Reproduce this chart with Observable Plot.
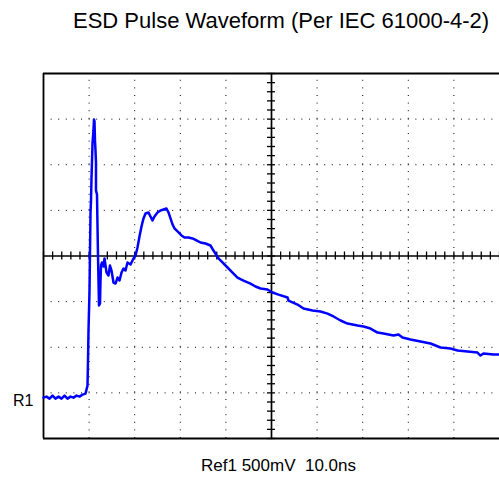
<!DOCTYPE html>
<html>
<head>
<meta charset="utf-8">
<script src="https://cdn.jsdelivr.net/npm/d3@7"></script>
<script src="https://cdn.jsdelivr.net/npm/@observablehq/plot@0.6"></script>
<style>
  html, body { margin: 0; padding: 0; background: #fff; }
  #wrap { position: relative; width: 499px; height: 479px; overflow: hidden; font-family: "Liberation Sans", Arial, sans-serif; color: #000; }
  #title { position: absolute; left: 73px; top: 10px; font-size: 22px; line-height: 22px; white-space: pre; }
  #chart { position: absolute; left: 0; top: 60px; }
  #caption { position: absolute; left: 201px; top: 457px; font-size: 17px; line-height: 17px; white-space: pre; }
</style>
</head>
<body>
<div id="wrap">
  <div id="title"></div>
  <div id="chart"></div>
  <div id="caption"></div>
</div>
<script>
// Texts
const titleText = "ESD Pulse Waveform (Per IEC 61000-4-2)";
const captionText = "Ref1 500mV  10.0ns";
const refLabel = "R1";

// Time axis (ns): 10 ns/div, 10 divisions
const timeDomain = [0, 100];
// Voltage axis (V relative to R1 reference): 500 mV/div, 8 divisions
const voltDomain = [-0.5, 3.5];
const timeCenter = 50;
const voltCenter = 1.5;
const timeGrid = [10, 20, 30, 40, 60, 70, 80, 90];
const voltGrid = [0, 0.5, 1.0, 2.0, 2.5, 3.0];

// Waveform samples
const timeNs = [
  0, 0.66, 1.32, 1.97, 2.63, 3.29, 3.95, 4.61, 5.26, 5.92, 6.58, 7.24, 7.89, 8.55, 9.21,
  9.43, 9.65, 9.76, 9.87, 9.98, 10.09, 10.20, 10.31, 10.42, 10.53, 10.64, 10.75, 10.96, 11.07,
  11.18, 11.29, 11.40, 11.51, 11.51, 11.51, 11.73, 11.84, 11.95, 12.06, 12.17, 12.39, 12.50,
  12.61, 12.83, 13.16, 13.38, 13.82, 14.25, 14.58, 14.91, 15.35, 15.79, 16.23, 16.67, 17.11,
  17.54, 17.98, 18.42, 19.08, 19.74, 20.18, 20.61, 21.05, 21.49, 21.93, 22.37, 23.03, 23.46,
  23.90, 24.34, 25.00, 25.66, 26.32, 26.97, 27.41, 27.85, 28.29, 28.73, 29.17, 29.61, 30.26,
  30.92, 31.80, 32.68, 33.55, 34.43, 35.53, 36.62, 37.28, 38.38, 39.25, 40.35, 41.45, 42.54,
  43.86, 45.39, 46.49, 47.59, 49.12, 50.22, 51.54, 53.51, 53.73, 55.70, 57.02, 58.99, 60.75,
  62.28, 63.60, 65.14, 66.67, 68.87, 70.18, 71.71, 73.25, 74.56, 76.76, 77.85, 78.73, 80.48,
  82.68, 84.87, 85.97, 87.06, 89.25, 90.79, 92.98, 95.17, 95.83, 96.49, 98.68, 100.0
];
const voltV = [
  -0.052, -0.041, -0.063, -0.030, -0.063, -0.041, -0.063, -0.030, -0.063, -0.041, -0.052, -0.030, -0.041, -0.019, -0.008,
  0.036, 0.080, 0.354, 0.684, 0.903, 1.122, 1.560, 1.977, 2.109, 2.361, 2.547, 2.734, 2.876, 2.997,
  2.975, 2.767, 2.657, 2.525, 2.438, 2.219, 2.174, 1.834, 1.505, 1.231, 0.957, 0.979, 1.231,
  1.396, 1.429, 1.385, 1.473, 1.319, 1.286, 1.396, 1.341, 1.209, 1.198, 1.264, 1.231, 1.319,
  1.363, 1.341, 1.429, 1.407, 1.473, 1.506, 1.593, 1.714, 1.824, 1.912, 1.966, 1.977, 1.933,
  1.890, 1.933, 1.977, 1.999, 2.010, 2.021, 1.977, 1.912, 1.846, 1.802, 1.780, 1.758, 1.725,
  1.703, 1.703, 1.692, 1.670, 1.648, 1.637, 1.615, 1.560, 1.473, 1.429, 1.374, 1.319, 1.264,
  1.231, 1.198, 1.166, 1.144, 1.133, 1.100, 1.077, 1.045, 1.012, 0.968, 0.924, 0.902, 0.891,
  0.869, 0.837, 0.793, 0.760, 0.738, 0.727, 0.705, 0.661, 0.650, 0.628, 0.639, 0.606, 0.584,
  0.562, 0.541, 0.519, 0.497, 0.486, 0.464, 0.453, 0.442, 0.409, 0.431, 0.420, 0.420
];

const wave = timeNs.map((t, i) => ({t, v: voltV[i]}));
const minorT = d3.range(0, 100.001, 2);
const minorV = d3.range(-0.5, 3.5001, 0.1);
const tickHalfV = 0.044;  // ~4px in volts
const tickHalfT = 0.88;   // ~4px in ns

document.getElementById("title").textContent = titleText;
document.getElementById("caption").textContent = captionText;

const chart = Plot.plot({
  width: 499,
  height: 419,
  marginTop: 13,
  marginBottom: 41,
  marginLeft: 43,
  marginRight: 0,
  x: {domain: timeDomain, axis: null},
  y: {domain: voltDomain, axis: null},
  style: {background: "#fff", overflow: "visible", fontFamily: "Liberation Sans, Arial, sans-serif"},
  marks: [
    Plot.ruleX(timeGrid, {x: d => d, y1: voltDomain[0], y2: voltDomain[1], stroke: "#000", strokeWidth: 1, strokeDasharray: "1,6.6"}),
    Plot.ruleY(voltGrid, {y: d => d, x1: timeDomain[0], x2: timeDomain[1], stroke: "#000", strokeWidth: 1, strokeDasharray: "1,6.6"}),
    Plot.ruleX([timeCenter], {y1: voltDomain[0], y2: voltDomain[1], stroke: "#000", strokeWidth: 1.7}),
    Plot.ruleY([voltCenter], {x1: timeDomain[0], x2: timeDomain[1], stroke: "#000", strokeWidth: 1.7}),
    Plot.ruleX(minorT, {x: d => d, y1: voltCenter - tickHalfV, y2: voltCenter + tickHalfV, stroke: "#000", strokeWidth: 1.3}),
    Plot.ruleY(minorV, {y: d => d, x1: timeCenter - tickHalfT, x2: timeCenter + tickHalfT, stroke: "#000", strokeWidth: 1.3}),
    Plot.ruleY([voltDomain[0], voltDomain[1]], {x1: timeDomain[0], x2: timeDomain[1], stroke: "#000", strokeWidth: 1.8}),
    Plot.ruleX([timeDomain[0]], {y1: voltDomain[0], y2: voltDomain[1], stroke: "#000", strokeWidth: 1.8}),
    Plot.line(wave, {x: "t", y: "v", stroke: "#0000ff", strokeWidth: 2.5, strokeLinejoin: "round", strokeLinecap: "round"}),
    Plot.text([refLabel], {x: timeDomain[0], y: 0, text: d => d, textAnchor: "end", dx: -10, dy: 7.6, fontSize: 16, fill: "#000"})
  ]
});
document.getElementById("chart").appendChild(chart);
</script>
</body>
</html>
